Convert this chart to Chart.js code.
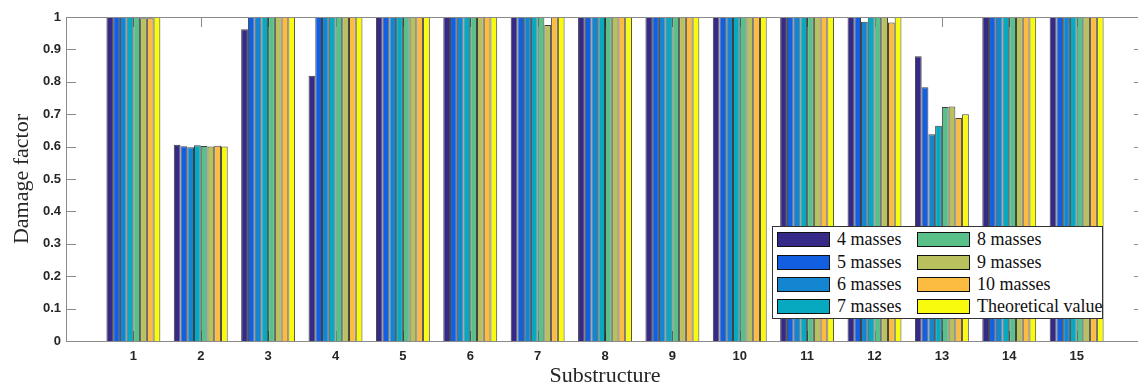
<!DOCTYPE html>
<html>
<head>
<meta charset="utf-8">
<script src="https://cdn.jsdelivr.net/npm/chart.js@4/dist/chart.umd.min.js"></script>
<style>
  html, body { margin: 0; padding: 0; background: #fff; overflow: hidden; }
  #wrap { position: relative; width: 1138px; height: 389px; overflow: hidden; }
  #c { position: absolute; left: 0; top: 0; }
  #legend { position: absolute; left: 772px; top: 226px; width: 331px; height: 93px;
            border: 1px solid #333; background: #fff; box-sizing: border-box;
            font-family: "Liberation Serif", "Times New Roman", serif; font-size: 18px; color: #111; }
  .item { position: absolute; height: 22px; display: flex; align-items: center; white-space: pre; }
  .sw { width: 51px; height: 13px; border: 1px solid #111; margin-right: 7px; }
</style>
</head>
<body>
<div id="wrap">
  <canvas id="c" width="1160" height="389"></canvas>
  <div id="legend"></div>
</div>
<script>
// ---- data ----
const categories = ['1','2','3','4','5','6','7','8','9','10','11','12','13','14','15'];
const seriesNames = ['4 masses','5 masses','6 masses','7 masses','8 masses','9 masses','10 masses','Theoretical value'];
const seriesColors = ['#352a87','#1260e1','#1485d1','#07a9c1','#5ac08a','#b9c05e','#fbbc41','#f9fb0e'];
const masses4  = [1, 0.606, 0.962, 0.819, 1, 1, 1, 1, 1, 1, 1, 1,     0.879, 1, 1];
const masses5  = [1, 0.601, 1,     1,     1, 1, 1, 1, 1, 1, 1, 1,     0.783, 1, 1];
const masses6  = [1, 0.598, 1,     1,     1, 1, 1, 1, 1, 1, 1, 0.985, 0.638, 1, 1];
const masses7  = [1, 0.604, 1,     1,     1, 1, 1, 1, 1, 1, 1, 1,     0.664, 1, 1];
const masses8  = [1, 0.602, 1,     1,     1, 1, 1, 1, 1, 1, 1, 1,     0.722, 1, 1];
const masses9  = [0.996, 0.600, 1, 1,     1, 1, 0.975, 1, 1, 1, 1, 1,  0.724, 1, 1];
const masses10 = [0.996, 0.603, 1, 1,     1, 1, 1, 1, 1, 1, 1, 0.983, 0.688, 1, 1];
const theoretical = [1, 0.6, 1,   1,     1, 1, 1, 1, 1, 1, 1, 1,     0.7,   1, 1];
const yTicks = [0,0.1,0.2,0.3,0.4,0.5,0.6,0.7,0.8,0.9,1];

const seriesValues = [masses4, masses5, masses6, masses7, masses8, masses9, masses10, theoretical];
// padded category axis (empty slot at each end, like xlim [0 16])
const labels = [''].concat(categories, ['']);
const datasets = seriesValues.map((vals, i) => ({
  label: seriesNames[i],
  data: [null].concat(vals, [null]),
  backgroundColor: seriesColors[i],
  borderColor: 'rgba(30,30,30,0.85)',
  borderWidth: 1,
  borderSkipped: 'start',
  categoryPercentage: 0.8,
  barPercentage: 1.0
}));

const axesPlugin = {
  id: 'matlabAxes',
  beforeDatasetsDraw(chart) {
    const {ctx, chartArea: a, scales} = chart;
    ctx.save();
    ctx.strokeStyle = '#8a8a8a';
    ctx.lineWidth = 1;
    ctx.beginPath();
    yTicks.forEach(v => {
      const y = Math.round(scales.y.getPixelForValue(v)) + 0.5;
      ctx.moveTo(a.left, y); ctx.lineTo(a.left + 10, y);
      ctx.moveTo(a.right, y); ctx.lineTo(a.right - 10, y);
    });
    categories.forEach((c, i) => {
      const x = Math.round(scales.x.getPixelForValue(i + 1)) + 0.5;
      ctx.moveTo(x, a.bottom); ctx.lineTo(x, a.bottom - 10);
      ctx.moveTo(x, a.top); ctx.lineTo(x, a.top + 10);
    });
    ctx.stroke();
    ctx.restore();
  },
  afterDatasetsDraw(chart) {
    const {ctx, chartArea: a} = chart;
    ctx.save();
    ctx.strokeStyle = '#8a8a8a';
    ctx.lineWidth = 1;
    ctx.strokeRect(Math.round(a.left) + 0.5, Math.round(a.top) + 0.5,
                   Math.round(a.right - a.left), Math.round(a.bottom - a.top));
    ctx.restore();
  }
};

new Chart(document.getElementById('c'), {
  type: 'bar',
  data: { labels, datasets },
  options: {
    responsive: false,
    animation: false,
    devicePixelRatio: 1,
    layout: { padding: { top: 17, right: 16, left: 0, bottom: 0 } },
    plugins: { legend: { display: false }, tooltip: { enabled: false } },
    scales: {
      x: {
        offset: false,
        grid: { display: false, drawTicks: false },
        border: { display: false },
        ticks: { color: '#262626', font: { family: 'Liberation Sans', size: 13, weight: 'bold' },
                 padding: 8, autoSkip: false, maxRotation: 0 },
        title: { display: true, text: 'Substructure', color: '#262626',
                 font: { family: 'Liberation Serif', size: 22 }, padding: { top: 0, bottom: 0 } },
        afterFit(s) { s.height = 48; }
      },
      y: {
        min: 0, max: 1,
        afterBuildTicks(s) { s.ticks = yTicks.map(v => ({ value: v })); },
        grid: { display: false, drawTicks: false },
        border: { display: false },
        ticks: { color: '#262626', font: { family: 'Liberation Sans', size: 13, weight: 'bold' },
                 padding: 5, callback: v => String(Math.round(v * 10) / 10) },
        title: { display: true, text: 'Damage factor', color: '#262626',
                 font: { family: 'Liberation Serif', size: 22 }, padding: { top: 9, bottom: 0 } },
        afterFit(s) { s.width = 66; }
      }
    }
  },
  plugins: [axesPlugin]
});

// legend (HTML, built from the series arrays)
const lg = document.getElementById('legend');
const colX = [4, 144], rowY = [1, 24, 46, 68];
seriesNames.forEach((n, i) => {
  const col = Math.floor(i / 4), row = i % 4;
  const d = document.createElement('div');
  d.className = 'item';
  d.style.left = colX[col] + 'px';
  d.style.top = rowY[row] + 'px';
  const sw = document.createElement('span');
  sw.className = 'sw';
  sw.style.background = seriesColors[i];
  const t = document.createElement('span');
  t.textContent = n;
  d.appendChild(sw); d.appendChild(t);
  lg.appendChild(d);
});
</script>
</body>
</html>
